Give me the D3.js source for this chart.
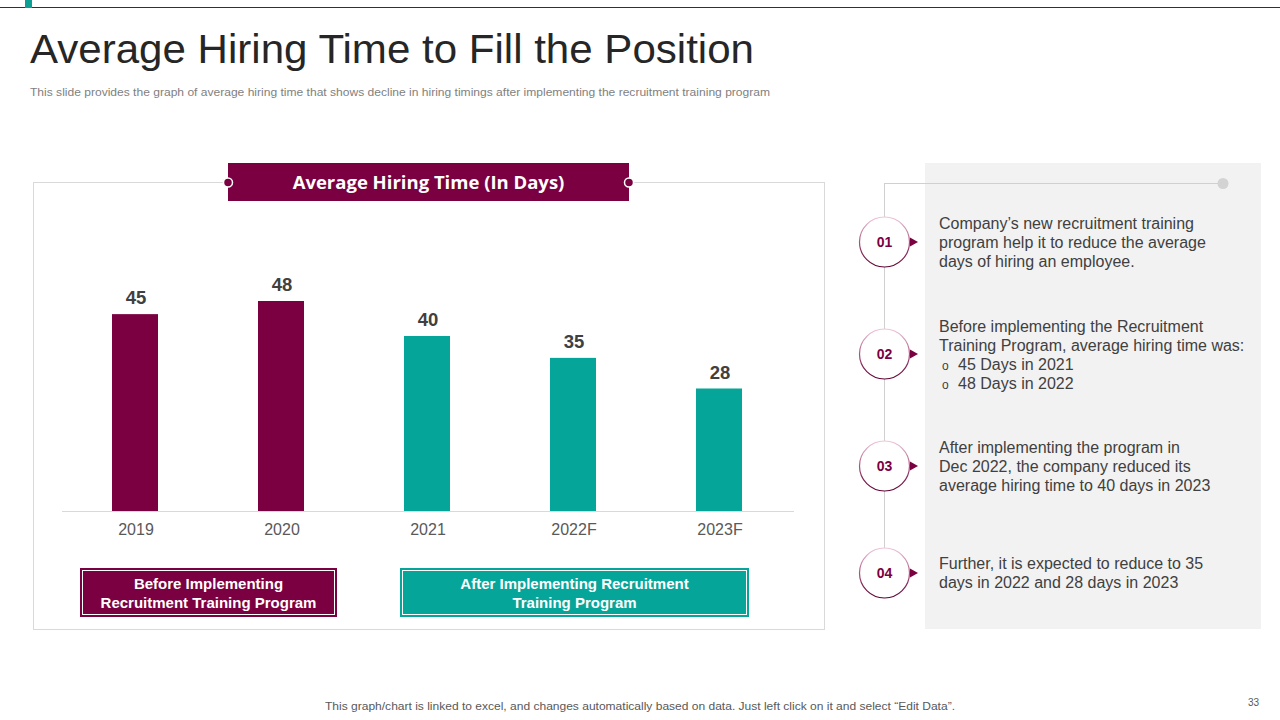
<!DOCTYPE html>
<html>
<head>
<meta charset="utf-8">
<script src="https://cdn.jsdelivr.net/npm/d3@7/dist/d3.min.js"></script>
<style>
  html, body { margin: 0; padding: 0; background: #fff; }
  svg { display: block; }
</style>
</head>
<body>
<svg id="chart" width="1280" height="720"></svg>
<script>
// ---------- data ----------
const categories = ["2019", "2020", "2021", "2022F", "2023F"];
const values = [45, 48, 40, 35, 28];
const phases = ["before", "before", "after", "after", "after"];
const legendLabels = [
  ["Before Implementing", "Recruitment Training Program"],
  ["After Implementing Recruitment", "Training Program"]
];
const stepNumbers = ["01", "02", "03", "04"];
const stepTexts = [
  ["Company\u2019s new recruitment training", "program help it to reduce the average", "days of hiring an employee."],
  ["Before implementing the Recruitment", "Training Program, average hiring time was:", "\u2022 45 Days in 2021", "\u2022 48 Days in 2022"],
  ["After implementing the program in", "Dec 2022, the company reduced its", "average hiring time to 40 days in 2023"],
  ["Further,  it is expected to reduce to 35", "days in 2022 and 28 days in 2023"]
];

// ---------- styles ----------
const MAROON = "#7b0041";
const TEAL = "#06a59a";
const colorFor = { before: MAROON, after: TEAL };
const titleFont = "'Open Sans', 'DejaVu Sans', sans-serif";
const bodyFont = "'Liberation Sans', Arial, sans-serif";

const svg = d3.select("#chart");

// top rule + teal marker
svg.append("line").attr("x1", 0).attr("x2", 1280).attr("y1", 7.5).attr("y2", 7.5)
  .attr("stroke", "#4a2146").attr("stroke-width", 1);
svg.append("rect").attr("x", 25).attr("y", 0).attr("width", 7).attr("height", 8).attr("fill", "#0e9f94");

// title + subtitle
svg.append("text").attr("x", 30).attr("y", 63)
  .attr("font-family", "'Liberation Sans', 'DejaVu Sans', sans-serif").attr("font-size", 40)
  .attr("fill", "#262626").attr("textLength", 724).attr("lengthAdjust", "spacingAndGlyphs")
  .text("Average Hiring Time to Fill the Position");
svg.append("text").attr("x", 30).attr("y", 96)
  .attr("font-family", bodyFont).attr("font-size", 11.5).attr("fill", "#7f7f7f")
  .attr("textLength", 740).attr("lengthAdjust", "spacingAndGlyphs")
  .text("This slide provides the graph of average hiring time that shows decline in hiring timings after implementing the recruitment training program");

// chart frame
svg.append("rect").attr("x", 33.5).attr("y", 182.5).attr("width", 791).attr("height", 447)
  .attr("fill", "#fff").attr("stroke", "#d9d9d9").attr("stroke-width", 1);

// banner
svg.append("rect").attr("x", 228).attr("y", 163).attr("width", 401).attr("height", 38).attr("fill", MAROON);
svg.append("text").attr("x", 428.5).attr("y", 189).attr("text-anchor", "middle")
  .attr("font-family", titleFont).attr("font-weight", 700).attr("font-size", 18.5).attr("fill", "#fff")
  .text("Average Hiring Time (In Days)");
[228, 629].forEach(cx => {
  svg.append("circle").attr("cx", cx).attr("cy", 182.5).attr("r", 4.5)
    .attr("fill", MAROON).attr("stroke", "#fff").attr("stroke-width", 1.5);
});

// scales
const x = d3.scaleBand().domain(categories).range([62, 792]).paddingInner(0.685).paddingOuter(0.3425);
const y = d3.scaleLinear().domain([0, 60]).range([511, 248.5]);

// bars
svg.append("g").selectAll("rect").data(categories).join("rect")
  .attr("x", d => x(d))
  .attr("y", (d, i) => y(values[i]))
  .attr("width", x.bandwidth())
  .attr("height", (d, i) => y(0) - y(values[i]))
  .attr("fill", (d, i) => colorFor[phases[i]]);

// value labels
svg.append("g").selectAll("text").data(categories).join("text")
  .attr("x", d => x(d) + x.bandwidth() / 2 + 1)
  .attr("y", (d, i) => y(values[i]) - 10)
  .attr("text-anchor", "middle")
  .attr("font-family", bodyFont).attr("font-weight", 700).attr("font-size", 18.5).attr("fill", "#404040")
  .text((d, i) => values[i]);

// x axis
const xAxis = svg.append("g").attr("transform", "translate(0,511)")
  .call(d3.axisBottom(x).tickSize(0).tickPadding(13));
xAxis.select(".domain").attr("stroke", "#d9d9d9").attr("d", "M62,0.5H794");
xAxis.selectAll("text").attr("font-family", bodyFont).attr("font-size", 16).attr("fill", "#595959")
  .attr("dx", 1);

// legend boxes
const legendBoxes = [
  { x: 80, w: 257, color: MAROON },
  { x: 400, w: 349, color: TEAL }
];
legendBoxes.forEach((b, i) => {
  svg.append("rect").attr("x", b.x).attr("y", 568).attr("width", b.w).attr("height", 49).attr("fill", b.color);
  svg.append("rect").attr("x", b.x + 2.5).attr("y", 570.5).attr("width", b.w - 5).attr("height", 44)
    .attr("fill", "none").attr("stroke", "#fff").attr("stroke-width", 1);
  legendLabels[i].forEach((line, j) => {
    svg.append("text").attr("text-anchor", "middle")
      .attr("font-family", bodyFont).attr("font-weight", 700).attr("font-size", 15).attr("fill", "#fff")
      .attr("x", b.x + b.w / 2).attr("y", 589 + j * 19).text(line);
  });
});

// right panel
svg.append("rect").attr("x", 925).attr("y", 163).attr("width", 336).attr("height", 466).attr("fill", "#f2f2f2");

const stepY = [242, 354, 466, 573];
svg.append("line").attr("x1", 884.5).attr("x2", 884.5).attr("y1", 183).attr("y2", stepY[3] - 25)
  .attr("stroke", "#d0d0d0").attr("stroke-width", 1);
svg.append("line").attr("x1", 884).attr("x2", 1223).attr("y1", 183.5).attr("y2", 183.5)
  .attr("stroke", "#d0d0d0").attr("stroke-width", 1);
svg.append("circle").attr("cx", 1223).attr("cy", 183.5).attr("r", 5.5).attr("fill", "#d3d3d3");

const defs = svg.append("defs");
const grad = defs.append("linearGradient").attr("id", "ringGrad")
  .attr("x1", 0).attr("y1", 0).attr("x2", 0).attr("y2", 1);
grad.append("stop").attr("offset", "0%").attr("stop-color", "#f0c6dc");
grad.append("stop").attr("offset", "55%").attr("stop-color", "#a04a76");
grad.append("stop").attr("offset", "100%").attr("stop-color", "#5e0032");

stepNumbers.forEach((n, i) => {
  const cy = stepY[i];
  svg.append("circle").attr("cx", 884.5).attr("cy", cy).attr("r", 25)
    .attr("fill", "#fff").attr("stroke", "url(#ringGrad)").attr("stroke-width", 1.2);
  svg.append("path").attr("d", `M910,${cy - 4.5}L918,${cy}L910,${cy + 4.5}Z`).attr("fill", MAROON);
  svg.append("text").attr("x", 884.5).attr("y", cy + 5).attr("text-anchor", "middle")
    .attr("font-family", bodyFont).attr("font-weight", 700).attr("font-size", 14).attr("fill", MAROON)
    .text(n);
  const lines = stepTexts[i];
  const top = i === 1 ? cy - 22 : (i === 3 ? cy - 4 : cy - 13);
  const t = svg.append("text").attr("font-family", bodyFont).attr("font-size", 16).attr("fill", "#404040");
  lines.forEach((line, j) => {
    const yy = top + j * 19;
    if (line.startsWith("\u2022")) {
      t.append("tspan").attr("x", 942).attr("y", yy).attr("font-size", 12).text("o");
      t.append("tspan").attr("x", 958).attr("y", yy).text(line.slice(2));
    } else {
      t.append("tspan").attr("x", 939).attr("y", yy).text(line);
    }
  });
});

// footer
svg.append("text").attr("x", 640).attr("y", 710).attr("text-anchor", "middle")
  .attr("font-family", bodyFont).attr("font-size", 11).attr("fill", "#595959")
  .attr("textLength", 630).attr("lengthAdjust", "spacingAndGlyphs")
  .text("This graph/chart is linked to excel,  and changes automatically based on data. Just left click on it and select \u201cEdit Data\u201d.");
svg.append("text").attr("x", 1259).attr("y", 706).attr("text-anchor", "end")
  .attr("font-family", bodyFont).attr("font-size", 10).attr("fill", "#595959").text("33");
</script>
</body>
</html>
